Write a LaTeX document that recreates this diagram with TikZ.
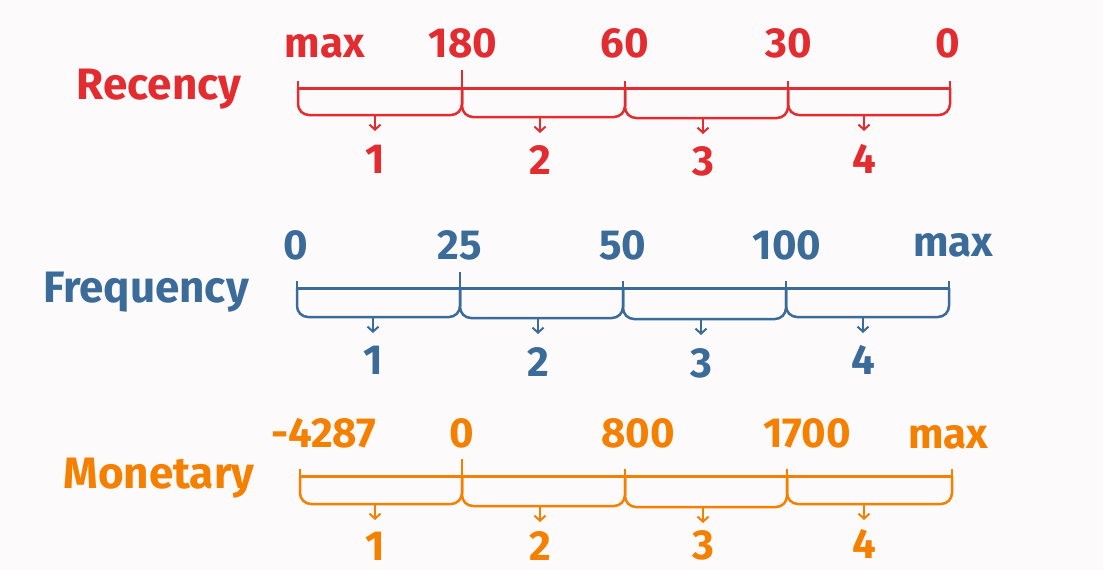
\documentclass[tikz,border=0pt]{standalone}
\usepackage{fontspec}
\setmainfont{Fira Sans}
\usetikzlibrary{arrows.meta,calc}
\definecolor{rc}{RGB}{226,44,48}
\definecolor{fc}{RGB}{58,107,153}
\definecolor{mc}{RGB}{245,128,0}
\definecolor{bgc}{RGB}{253,250,252}
\begin{document}
\begin{tikzpicture}[x=1pt,y=-1pt,
 txt/.style={font=\fontsize{42}{50}\selectfont\bfseries, inner sep=0pt, anchor=base, text depth=0pt},
 title/.style={font=\fontsize{44}{52}\selectfont\bfseries, inner sep=0pt, anchor=base},
 axis/.style={line width=3pt},
 tickmark/.style={line width=2.6pt},
 brace/.style={line width=2.5pt, rounded corners=11pt},
 arr/.style={line width=2pt, -{Straight Barb[length=5pt,width=11pt,line width=2pt]}},
]
\fill[bgc] (0,0) rectangle (1103,570);
\useasboundingbox (0,0) rectangle (1103,570);

% ---------------- Recency ----------------
\begin{scope}[color=rc]
\node[title] (recL) at (159,99) {Recency};
\foreach \n/\x in {0/298,1/462,2/625,3/788,4/950} \coordinate (r\n) at (\x,88);
\draw[axis] (r0) -- (r4);
\foreach \n in {0,2,3,4} \draw[tickmark] ($(r\n)+(0,-7)$) -- ($(r\n)+(0,4)$);
\draw[tickmark] ($(r1)+(0,-18)$) -- ($(r1)+(0,4)$);
\foreach \i/\a/\b/\x/\y/\t in {1/0/1/375/115/173,2/1/2/540/117/174,3/2/3/703/118/175,4/3/4/864/115/173}{
  \coordinate (rb\i) at (\x,\y);
  \coordinate (ra\i) at (\x,\y+16);
  \draw[brace] (r\a) |- (rb\i) -| (r\b);
  \draw[arr] (rb\i) -- (ra\i);
  \node[txt] (rn\i) at (\x,\t) {\i};
}
\node[txt] (rt0) at (325,57) {max};
\node[txt] (rt1) at (463,57) {180};
\node[txt] (rt2) at (625,57) {60};
\node[txt] (rt3) at (789,57) {30};
\node[txt] (rt4) at (948,57) {0};
\end{scope}

% ---------------- Frequency ----------------
\begin{scope}[color=fc]
\node[title] (freL) at (146,302) {Frequency};
\foreach \n/\x in {0/297,1/460,2/623,3/786,4/949} \coordinate (f\n) at (\x,288);
\draw[axis] (f0) -- (f4);
\foreach \n in {0,2,3,4} \draw[tickmark] ($(f\n)+(0,-7)$) -- ($(f\n)+(0,4)$);
\draw[tickmark] ($(f1)+(0,-16)$) -- ($(f1)+(0,4)$);
\foreach \i/\a/\b/\x/\y/\t in {1/0/1/373/317/374,2/1/2/538/318/376,3/2/3/701/319/377,4/3/4/863/317/374}{
  \coordinate (fb\i) at (\x,\y);
  \coordinate (fa\i) at (\x,\y+16);
  \draw[brace] (f\a) |- (fb\i) -| (f\b);
  \draw[arr] (fb\i) -- (fa\i);
  \node[txt] (fn\i) at (\x,\t) {\i};
}
\node[txt] (ft0) at (296,259) {0};
\node[txt] (ft1) at (460,259) {25};
\node[txt] (ft2) at (623,259) {50};
\node[txt] (ft3) at (787,259) {100};
\node[txt] (ft4) at (953,256) {max};
\end{scope}

% ---------------- Monetary ----------------
\begin{scope}[color=mc]
\node[title] (monL) at (159,488) {Monetary};
\foreach \n/\x in {0/300,1/462,2/625,3/787,4/952} \coordinate (m\n) at (\x,476);
\draw[axis] (m0) -- (m4);
\foreach \n in {0,2,3,4} \draw[tickmark] ($(m\n)+(0,-7)$) -- ($(m\n)+(0,4)$);
\draw[tickmark] ($(m1)+(0,-17)$) -- ($(m1)+(0,4)$);
\foreach \i/\a/\b/\x/\y/\t in {1/0/1/375/504/560,2/1/2/540/506/560,3/2/3/703/507/559,4/3/4/864/504/558}{
  \coordinate (mb\i) at (\x,\y);
  \coordinate (ma\i) at (\x,\y+16);
  \draw[brace] (m\a) |- (mb\i) -| (m\b);
  \draw[arr] (mb\i) -- (ma\i);
  \node[txt] (mn\i) at (\x,\t) {\i};
}
\node[txt] (mt0) at (324,447) {-4287};
\node[txt] (mt1) at (462,447) {0};
\node[txt] (mt2) at (638,447) {800};
\node[txt] (mt3) at (807,447) {1700};
\node[txt] (mt4) at (948,448) {max};
\end{scope}
\end{tikzpicture}
\end{document}
